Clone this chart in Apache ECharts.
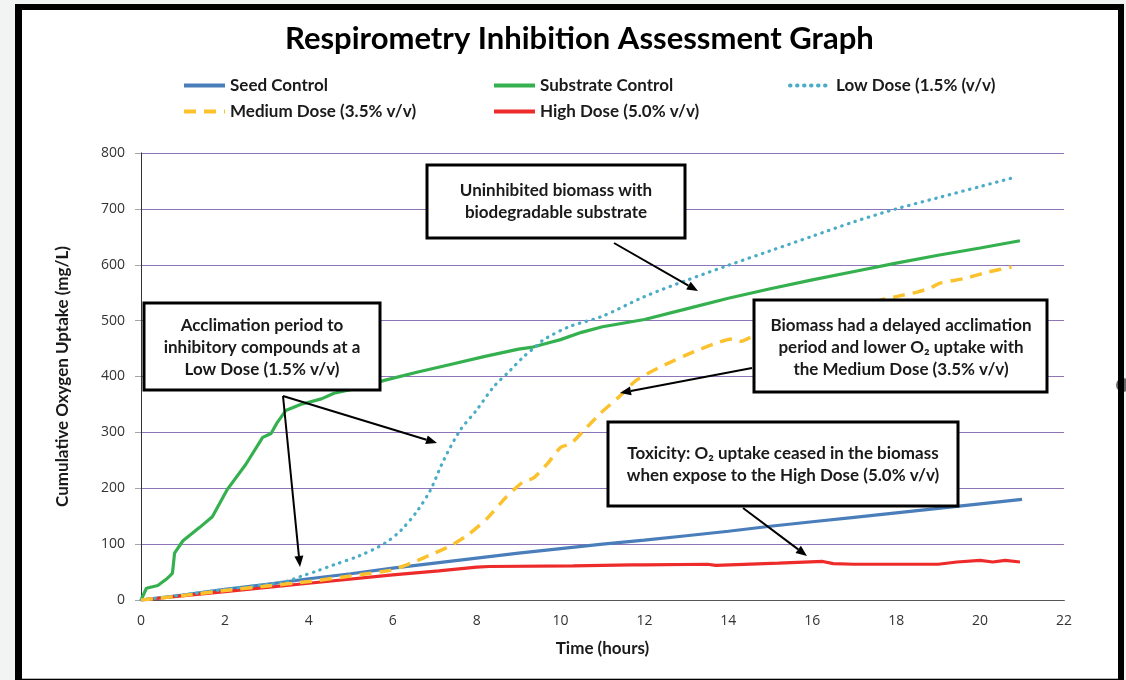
<!DOCTYPE html>
<html>
<head>
<meta charset="utf-8">
<script src="https://cdn.jsdelivr.net/npm/echarts@6/dist/echarts.min.js"></script>
<style>
html,body{margin:0;padding:0;background:#f2f4f3;}
#chart{width:1126px;height:680px;}
</style>
</head>
<body>
<div id="chart"></div>
<script>
// ---- data ----
const xTicks = [0, 2, 4, 6, 8, 10, 12, 14, 16, 18, 20, 22];
const yTicks = [0, 100, 200, 300, 400, 500, 600, 700, 800];

const seedT = [0,1,2,3,4,5,6,7,8,9,10,11,12,13,14,15,16,17,18,19,20,21];
const seedV = [0,9,19,28,38,47,57,66,75,84,92,100,107,115,123,132,140,148,156,164,172,180];

const substrateT = [0,0.13,0.4,0.6,0.7,0.75,0.8,1.0,1.4,1.7,2.05,2.5,2.9,3.1,3.25,3.45,3.8,4.3,4.6,5.1,5.8,6.6,7.4,8.2,9.0,9.3,9.7,10.0,10.5,11,12,13,14,15,16,17,18,19,20,20.95];
const substrateV = [0,21,26,37,44,48,84,106,130,149,197,243,291,298,318,339,350,360,370,378,393,408,422,436,449,452,460,466,479,489,502,521,540,557,573,588,603,617,630,643];

const lowT = [0,1,2,3,3.5,3.8,4.2,4.6,5.2,5.8,6.2,6.6,6.9,7.2,7.6,8.0,8.4,8.8,9.1,9.4,9.6,10.2,11,12,13,14,15,16,17,18,19,20,20.75];
const lowV = [0,9,19,28,34,42,52,63,79,101,125,161,197,248,303,340,381,411,434,453,466,489,508,543,572,599,625,651,677,700,720,740,755];

const mediumT = [0,1,2,3,4,5,6,6.5,7.0,7.4,7.8,8.25,8.7,9.1,9.35,9.7,10.0,10.25,10.55,10.95,11.4,11.8,12.4,13.2,13.8,14.1,14.3,14.5,15,16,17,17.6,18.0,18.5,18.8,19.05,19.6,20.2,20.75];
const mediumV = [0,8,17,25,33,43,54,68,84,98,117,146,184,211,218,245,273,280,303,334,364,393,418,445,462,467,463,469,482,502,522,536,543,551,558,567,575,587,596];

const highT = [0,2,4,6,7.1,8.0,8.3,10.3,11.7,12,13.5,13.7,15.2,16.25,16.5,17,19,19.45,20,20.3,20.6,20.95];
const highV = [0,15,30,45,52,59,60,61,63,63,64,62,66,69,65,64,64,68,71,68,71,68];

const seriesNames = ['Seed Control','Substrate Control','Low Dose (1.5% (v/v)','Medium Dose (3.5% v/v)','High Dose (5.0% v/v)'];

const notes = [
  'Uninhibited biomass with\nbiodegradable substrate',
  'Acclimation period to\ninhibitory compounds at a\nLow Dose (1.5% v/v)',
  'Biomass had a delayed acclimation\nperiod and lower O\u2082 uptake with\nthe Medium Dose (3.5% v/v)',
  'Toxicity: O\u2082 uptake ceased in the biomass\nwhen expose to the High Dose (5.0% v/v)'
];

// ---- build ----
function pairs(t, v) { return t.map((x, i) => [x, v[i]]); }

const FONT = 'Lato, "Open Sans", sans-serif';

function arrow(x1, y1, x2, y2) {
  const ang = Math.atan2(y2 - y1, x2 - x1);
  const L = 11, W = 4.5;
  const bx = x2 - L * Math.cos(ang), by = y2 - L * Math.sin(ang);
  const px = -Math.sin(ang) * W, py = Math.cos(ang) * W;
  return [
    { type: 'line', z: 100, shape: { x1: x1, y1: y1, x2: bx, y2: by }, style: { stroke: '#000', lineWidth: 2 } },
    { type: 'polygon', z: 100, shape: { points: [[x2, y2], [bx + px, by + py], [bx - px, by - py]] }, style: { fill: '#000' } }
  ];
}

function box(x, y, w, h, text, cx, cy) {
  return [
    { type: 'rect', z: 100, shape: { x: x, y: y, width: w, height: h }, style: { fill: '#fff', stroke: '#000', lineWidth: 3 } },
    { type: 'text', z: 101, x: cx, y: cy, style: { text: text, align: 'center', verticalAlign: 'middle', font: 'bold 17px ' + FONT, fill: '#1a1a1a', lineHeight: 22 } }
  ];
}

const graphics = [
  { type: 'rect', z: -10, shape: { x: 15, y: 4, width: 1109, height: 676 }, style: { fill: '#000' } },
  { type: 'rect', z: -9, shape: { x: 22, y: 10, width: 1096, height: 668 }, style: { fill: '#fff' } },
  { type: 'line', z: -9, shape: { x1: 22, y1: 678.5, x2: 1118, y2: 678.5 }, style: { stroke: '#b5b5b5', lineWidth: 1 } },
  { type: 'circle', z: -8, shape: { cx: 1123, cy: 385, r: 7 }, style: { fill: '#6a6a6a' } },
  { type: 'rect', z: -7, shape: { x: 1118, y: 4, width: 6, height: 676 }, style: { fill: '#000' } }
]
.concat(box(427, 165, 258, 73, notes[0], 556, 201.5))
.concat(box(144, 303, 236, 87, notes[1], 262, 348))
.concat(box(754, 300, 293, 92, notes[2], 901, 347.5))
.concat(box(608, 422, 350, 84, notes[3], 783, 464.5))
.concat(arrow(614, 243, 698, 291))
.concat(arrow(283, 396, 437, 443))
.concat(arrow(283, 396, 300, 567))
.concat(arrow(752, 368, 620, 393))
.concat(arrow(743, 508, 807, 556));

const legendText = { fontFamily: FONT, fontWeight: 'bold', fontSize: 17, color: '#1a1a1a' };
function leg(name, left, top) {
  return { data: [name], left: left, top: top, itemWidth: 41, itemHeight: 14, selectedMode: false,
           itemStyle: { opacity: 0 }, lineStyle: { width: 4 }, textStyle: legendText };
}

const chart = echarts.init(document.getElementById('chart'), null, { renderer: 'canvas' });
chart.setOption({
  backgroundColor: '#f2f4f3',
  animation: false,
  title: {
    text: 'Respirometry Inhibition Assessment Graph',
    left: 280, top: 18,
    textStyle: { fontFamily: FONT, fontWeight: 'bold', fontSize: 31, color: '#000' }
  },
  legend: [
    leg(seriesNames[0], 177, 72),
    leg(seriesNames[1], 487, 72),
    leg(seriesNames[2], 783, 72),
    leg(seriesNames[3], 177, 98),
    leg(seriesNames[4], 487, 98)
  ],
  grid: { left: 141, right: 62, top: 153, bottom: 80 },
  xAxis: [
    {
      type: 'value', min: 0, max: 22, interval: 2,
      name: 'Time (hours)', nameLocation: 'middle', nameGap: 40,
      nameTextStyle: { fontFamily: FONT, fontWeight: 'bold', fontSize: 17, color: '#1a1a1a' },
      axisLine: { show: true, lineStyle: { color: '#000', width: 1 } },
      axisTick: { show: false },
      axisLabel: { margin: 14, fontFamily: '"Open Sans", sans-serif', fontSize: 14, color: '#333', formatter: v => xTicks.includes(v) ? String(v) : '' },
      splitLine: { show: false }
    },
    {
      type: 'value', position: 'top', min: 0, max: 22, interval: 2,
      axisLine: { show: true, lineStyle: { color: '#555', width: 1 } },
      axisTick: { show: false }, axisLabel: { show: false }, splitLine: { show: false }
    }
  ],
  yAxis: [
    {
      type: 'value', min: 0, max: 800, interval: 100,
      name: 'Cumulative Oxygen Uptake (mg/L)', nameLocation: 'middle', nameGap: 70,
      nameTextStyle: { fontFamily: FONT, fontWeight: 'bold', fontSize: 17, color: '#1a1a1a' },
      axisLine: { show: true, lineStyle: { color: '#a6a6a6', width: 1 } },
      axisTick: { show: true, length: 6, lineStyle: { color: '#a6a6a6' } },
      axisLabel: { margin: 16, fontFamily: '"Open Sans", sans-serif', fontSize: 14, color: '#333', formatter: v => yTicks.includes(v) ? String(v) : '' },
      splitLine: { show: true, lineStyle: { color: '#8e74b8', width: 1.2 } }
    },
    {
      type: 'value', position: 'right', min: 0, max: 800, interval: 100,
      axisLine: { show: true, lineStyle: { color: '#333', width: 1 } },
      axisTick: { show: false }, axisLabel: { show: false }, splitLine: { show: false }
    }
  ],
  series: [
    { name: seriesNames[0], type: 'line', data: pairs(seedT, seedV), symbol: 'none', z: 3,
      lineStyle: { color: '#4a7ebb', width: 3.2 }, itemStyle: { color: '#4a7ebb' } },
    { name: seriesNames[1], type: 'line', data: pairs(substrateT, substrateV), symbol: 'none', z: 3,
      lineStyle: { color: '#35b04f', width: 3.2 }, itemStyle: { color: '#35b04f' } },
    { name: seriesNames[2], type: 'line', data: pairs(lowT, lowV), symbol: 'none', smooth: 0.3, z: 4,
      lineStyle: { color: '#4bacc6', width: 3.2, type: [0.5, 6.5], cap: 'round' }, itemStyle: { color: '#4bacc6' } },
    { name: seriesNames[3], type: 'line', data: pairs(mediumT, mediumV), symbol: 'none', smooth: 0.2, z: 4,
      lineStyle: { color: '#fcc22d', width: 3.5, type: [12, 8] }, itemStyle: { color: '#fcc22d' } },
    { name: seriesNames[4], type: 'line', data: pairs(highT, highV), symbol: 'none', z: 3,
      lineStyle: { color: '#ee2b2b', width: 3.2 }, itemStyle: { color: '#ee2b2b' } }
  ],
  graphic: graphics
});
</script>
</body>
</html>
